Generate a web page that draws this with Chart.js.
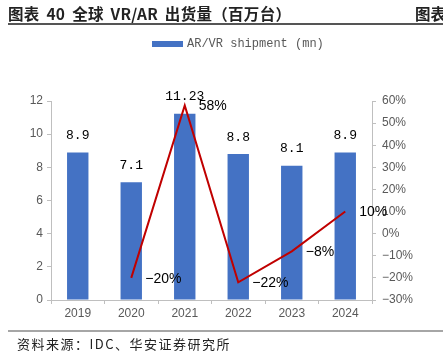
<!DOCTYPE html>
<html><head><meta charset="utf-8">
<script src="https://cdn.jsdelivr.net/npm/chart.js@4"></script>
<style>
html,body{margin:0;padding:0;width:443px;height:357px;overflow:hidden;background:#fff;position:relative;}
#title{position:absolute;left:8px;top:2px;font:bold 15.5px "Noto Sans CJK SC",sans-serif;color:#222;white-space:nowrap;word-spacing:3px;letter-spacing:0.3px;}
#title2{position:absolute;left:415px;top:2px;font:bold 15.5px "Noto Sans CJK SC",sans-serif;color:#222;white-space:nowrap;}
#rule1{position:absolute;left:8px;top:23px;width:435px;height:2px;background:#555;}
#rule2{position:absolute;left:8px;top:330px;width:435px;height:2px;background:#a6a6a6;}
#src{position:absolute;left:17px;top:334px;font:13px "Noto Sans CJK SC",sans-serif;letter-spacing:1.5px;color:#222;white-space:nowrap;}
#legend{position:absolute;left:152px;top:37px;font:12px "Liberation Mono",monospace;color:#595959;white-space:nowrap;}
#legend span.box{display:inline-block;width:31px;height:6px;background:#4472C4;vertical-align:middle;margin-right:4px;}
#wrap{position:absolute;left:0;top:0;width:443px;height:357px;}
</style></head>
<body>
<div id="wrap"><canvas id="c" width="443" height="357" style="width:443px;height:357px"></canvas></div>
<div id="title">图表 40 全球 VR/AR 出货量（百万台）</div>
<div id="title2">图表 41</div>
<div id="rule1"></div>
<div id="legend"><span class="box"></span>AR/VR shipment (mn)</div>
<div id="rule2"></div>
<div id="src">资料来源：IDC、华安证券研究所</div>
<script>
const categories = ["2019","2020","2021","2022","2023","2024"];
const shipments = [8.9, 7.1, 11.23, 8.8, 8.1, 8.9];
const shipmentLabels = ["8.9","7.1","11.23","8.8","8.1","8.9"];
const growth = [null, -20, 58, -22, -8, 10];
const growthLabels = [null, "−20%", "58%", "−22%", "−8%", "10%"];

const labelPlugin = {
  id: 'labels',
  afterDatasetsDraw(chart) {
    const ctx = chart.ctx;
    ctx.save();
    const m0 = chart.getDatasetMeta(0);
    ctx.font = '13px "Liberation Mono", monospace';
    ctx.fillStyle = '#000';
    ctx.textAlign = 'center';
    ctx.textBaseline = 'middle';
    m0.data.forEach((el, i) => {
      ctx.fillText(shipmentLabels[i], el.x, el.y - 17);
    });
    const m1 = chart.getDatasetMeta(1);
    ctx.font = '14px "Liberation Sans", Arial, sans-serif';
    ctx.textAlign = 'left';
    m1.data.forEach((el, i) => {
      if (growthLabels[i] == null) return;
      ctx.fillText(growthLabels[i], el.x + 14, el.y + 1);
    });
    ctx.restore();
  }
};

new Chart(document.getElementById('c'), {
  type: 'bar',
  data: {
    labels: categories,
    datasets: [
      { type: 'bar', data: shipments, backgroundColor: '#4472C4', yAxisID: 'y',
        categoryPercentage: 1, barPercentage: 0.4, order: 2 },
      { type: 'line', data: growth, borderColor: '#C00000', borderWidth: 2,
        pointRadius: 0, yAxisID: 'y1', tension: 0, spanGaps: false, order: 1 }
    ]
  },
  options: {
    responsive: false,
    maintainAspectRatio: false,
    animation: false,
    devicePixelRatio: 1,
    layout: { padding: { top: 101, left: 0, right: 0, bottom: 0 } },
    plugins: { legend: { display: false }, tooltip: { enabled: false } },
    scales: {
      x: {
        afterFit: s => { s.height = 57; },
        grid: { display: true, drawOnChartArea: false, drawTicks: true, tickLength: 4, offset: true, color: '#BFBFBF' },
        border: { color: '#BFBFBF', width: 1 },
        ticks: { color: '#595959', font: { size: 12, family: '"Liberation Sans", Arial, sans-serif' }, padding: 2, maxRotation: 0, autoSkip: false }
      },
      y: {
        position: 'left', min: 0, max: 12,
        afterFit: s => { s.width = 51; },
        grid: { display: true, drawOnChartArea: false, drawTicks: true, tickLength: 4, color: '#BFBFBF' },
        border: { color: '#BFBFBF', width: 1 },
        ticks: { stepSize: 2, color: '#595959', font: { size: 12, family: '"Liberation Sans", Arial, sans-serif' }, padding: 4 }
      },
      y1: {
        position: 'right', min: -30, max: 60,
        afterFit: s => { s.width = 71; },
        grid: { display: true, drawOnChartArea: false, drawTicks: true, tickLength: 4, color: '#BFBFBF' },
        border: { color: '#BFBFBF', width: 1 },
        ticks: { stepSize: 10, color: '#595959', font: { size: 12, family: '"Liberation Sans", Arial, sans-serif' }, padding: 6,
          callback: v => (v < 0 ? '−' + Math.abs(v) : v) + '%' }
      }
    }
  },
  plugins: [labelPlugin]
});
</script>
</body></html>
